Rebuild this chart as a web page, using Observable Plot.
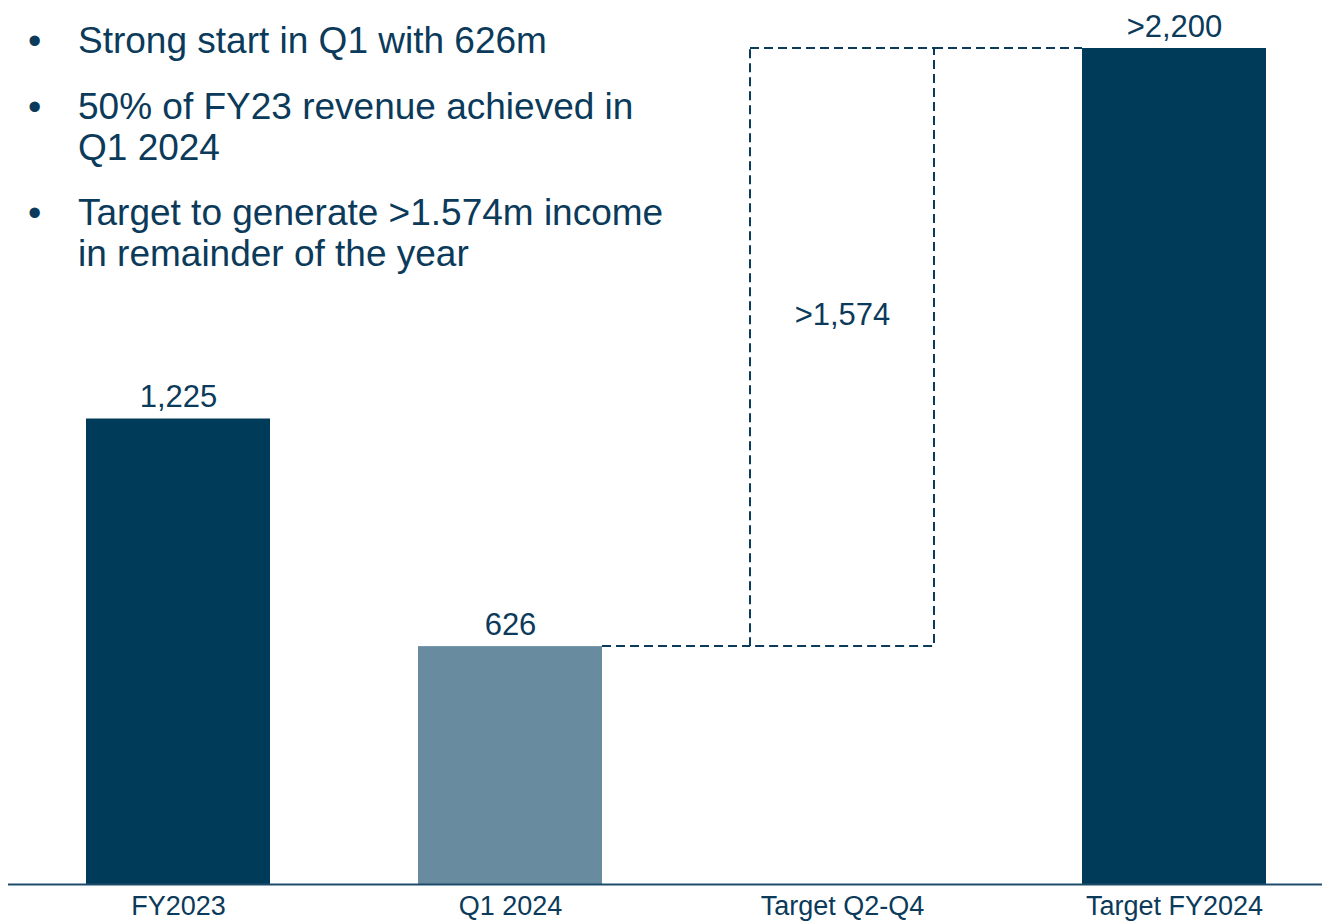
<!DOCTYPE html>
<html>
<head>
<meta charset="utf-8">
<script src="https://cdn.jsdelivr.net/npm/d3@7"></script>
<script src="https://cdn.jsdelivr.net/npm/@observablehq/plot@0.6"></script>
<style>
  html, body { margin: 0; padding: 0; background: #ffffff; }
  #wrap { position: relative; width: 1322px; height: 921px; overflow: hidden; }
  #bullets { position: absolute; left: 0; top: 0; margin: 0; padding: 0; list-style: none;
    font-family: "Liberation Sans", Arial, sans-serif; font-size: 37px; line-height: 41px; color: #0b3a5a; }
  #bullets li { position: absolute; left: 78px; white-space: nowrap; }
  #bullets li .dot { position: absolute; left: -50px; top: 1px; font-size: 38px; }
  #chart { position: absolute; left: 0; top: 0; }
</style>
</head>
<body>
<div id="wrap">
  <div id="chart"></div>
  <ul id="bullets"></ul>
</div>
<script>
// ---- data ----
const categories = ["FY2023", "Q1 2024", "Target Q2-Q4", "Target FY2024"];
const barBase = [0, 0, 626, 0];
const barTop = [1225, 626, 2200, 2200];
const barKind = ["dark", "light", "dashed", "dark"];
const valueLabels = ["1,225", "626", ">1,574", ">2,200"];
const connectors = [
  {from: "Q1 2024", to: "Target Q2-Q4", value: 626},
  {from: "Target Q2-Q4", to: "Target FY2024", value: 2200}
];
const bulletLines = [
  ["Strong start in Q1 with 626m"],
  ["50% of FY23 revenue achieved in", "Q1 2024"],
  ["Target to generate >1.574m income", "in remainder of the year"]
];
const bulletTops = [20, 86, 192];

// ---- styles ----
const colors = {dark: "#003c5a", light: "#688ba0"};
const textColor = "#0b3a5a";
const font = "'Liberation Sans', Arial, sans-serif";

const rows = categories.map((c, i) => ({
  category: c, base: barBase[i], top: barTop[i], kind: barKind[i], label: valueLabels[i]
}));

const dashedMark = (index, scales) => {
  const x = scales.x, y = scales.y;
  const bw = typeof x.bandwidth === "function" ? x.bandwidth() : x.bandwidth;
  const g = d3.create("svg:g")
    .attr("fill", "none").attr("stroke", textColor)
    .attr("stroke-width", 2).attr("stroke-dasharray", "9,5");
  for (const c of connectors) {
    g.append("line")
      .attr("x1", x(c.from) + bw).attr("x2", x(c.to))
      .attr("y1", y(c.value)).attr("y2", y(c.value));
  }
  return g.node();
};

const chart = Plot.plot({
  width: 1322,
  height: 921,
  marginLeft: 8,
  marginRight: 0,
  marginTop: 48,
  marginBottom: 37,
  style: {background: "transparent", color: textColor, fontFamily: font},
  x: {domain: categories, range: [12, 1340], paddingInner: 0.4444, paddingOuter: 0.2162, axis: null},
  y: {domain: [0, 2200], axis: null},
  marks: [
    Plot.barY(rows.filter(d => d.kind === "dark"), {x: "category", y1: "base", y2: "top", fill: colors.dark}),
    Plot.barY(rows.filter(d => d.kind === "light"), {x: "category", y1: "base", y2: "top", fill: colors.light}),
    Plot.barY(rows.filter(d => d.kind === "dashed"), {x: "category", y1: "base", y2: "top", fill: "none",
      stroke: textColor, strokeWidth: 2, strokeDasharray: "9,5"}),
    dashedMark,
    Plot.ruleY([0], {stroke: "#1d4c6b", strokeWidth: 2}),
    Plot.text(rows.filter(d => d.kind !== "dashed"), {x: "category", y: "top", text: "label",
      lineAnchor: "bottom", dy: -12, fontSize: 31, fontFamily: font, fill: textColor}),
    Plot.text(rows.filter(d => d.kind === "dashed"), {x: "category", y: d => (d.base + d.top) / 2, text: "label",
      lineAnchor: "middle", dy: -32, fontSize: 31, fontFamily: font, fill: textColor}),
    Plot.text(categories, {x: d => d, frameAnchor: "bottom", lineAnchor: "middle", dy: 22,
      text: d => d, fontSize: 27, fontFamily: font, fill: textColor})
  ]
});
document.getElementById("chart").appendChild(chart);

const ul = document.getElementById("bullets");
bulletLines.forEach((lines, i) => {
  const li = document.createElement("li");
  li.style.top = bulletTops[i] + "px";
  const dot = document.createElement("span");
  dot.className = "dot";
  dot.textContent = "•";
  li.appendChild(dot);
  lines.forEach((t, j) => {
    if (j > 0) li.appendChild(document.createElement("br"));
    li.appendChild(document.createTextNode(t));
  });
  ul.appendChild(li);
});
</script>
</body>
</html>
